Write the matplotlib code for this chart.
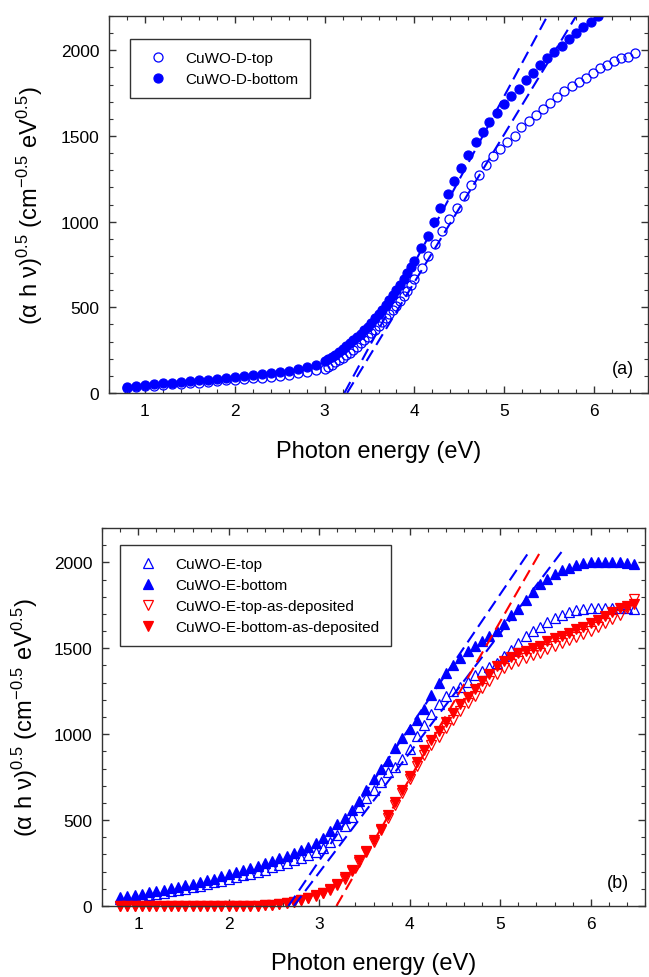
import numpy as np
import matplotlib
matplotlib.use("Agg")
import matplotlib.pyplot as plt
from matplotlib.ticker import MultipleLocator

plt.rcParams['font.family'] = ['Liberation Sans', 'DejaVu Sans']
plt.rcParams['mathtext.fontset'] = 'custom'
plt.rcParams['mathtext.rm'] = 'Liberation Sans'
plt.rcParams['mathtext.it'] = 'Liberation Sans'
plt.rcParams['mathtext.default'] = 'regular'

# ---- panel (a): CuWO-D ----
d_top_x = [0.8, 0.9, 1.0, 1.1, 1.2, 1.3, 1.4, 1.5, 1.6, 1.7, 1.8, 1.9, 2.0, 2.1, 2.2, 2.3, 2.4, 2.5,
           2.6, 2.7, 2.8, 2.9,
           3.00, 3.04, 3.08, 3.12, 3.16, 3.20, 3.24, 3.28, 3.32, 3.36, 3.40, 3.44, 3.48, 3.52, 3.56,
           3.60, 3.64, 3.68, 3.72, 3.76, 3.80, 3.84, 3.88, 3.92, 3.96, 4.00,
           4.08, 4.15, 4.23, 4.31, 4.39, 4.47, 4.55, 4.63, 4.72, 4.80, 4.87, 4.95, 5.03, 5.12, 5.19,
           5.27, 5.35, 5.43, 5.51, 5.59, 5.67, 5.75, 5.83, 5.91, 5.99, 6.07, 6.14, 6.22, 6.30, 6.38, 6.46]
d_top_y = [30, 35, 40, 43, 47, 50, 54, 57, 61, 65, 69, 73, 77, 81, 85, 90, 95, 100,
           107, 114, 122, 132,
           142, 153, 165, 178, 191, 205, 220, 236, 253, 271, 290, 309, 329, 349, 369,
           390, 412, 435, 459, 484, 510, 538, 567, 598, 630, 665,
           728, 800, 869, 943, 1015, 1079, 1147, 1213, 1273, 1330, 1381, 1423, 1462, 1500, 1550,
           1585, 1622, 1656, 1695, 1727, 1760, 1790, 1815, 1840, 1870, 1895, 1915, 1938, 1952, 1963, 1982]

d_bot_x = [0.8, 0.9, 1.0, 1.1, 1.2, 1.3, 1.4, 1.5, 1.6, 1.7, 1.8, 1.9, 2.0, 2.1, 2.2, 2.3, 2.4, 2.5,
           2.6, 2.7, 2.8, 2.9,
           3.00, 3.04, 3.08, 3.12, 3.16, 3.20, 3.24, 3.28, 3.32, 3.36, 3.40, 3.44, 3.48, 3.52, 3.56,
           3.60, 3.64, 3.68, 3.72, 3.76, 3.80, 3.84, 3.88, 3.92, 3.96, 4.00,
           4.07, 4.15, 4.22, 4.29, 4.37, 4.44, 4.52, 4.60, 4.68, 4.76, 4.83, 4.92, 5.00, 5.08, 5.16,
           5.24, 5.32, 5.40, 5.48, 5.55, 5.64, 5.72, 5.80, 5.88, 5.96, 6.04]
d_bot_y = [35, 43, 49, 53, 57, 61, 65, 69, 73, 78, 83, 88, 95, 100, 105, 110, 116, 123,
           130, 139, 150, 165,
           185, 197, 210, 224, 239, 255, 272, 289, 307, 326, 345, 366, 388, 411, 435,
           460, 486, 513, 541, 570, 600, 632, 665, 699, 734, 770,
           845, 917, 1000, 1080, 1160, 1238, 1315, 1390, 1462, 1524, 1582, 1636, 1686, 1734, 1776,
           1825, 1870, 1912, 1957, 1990, 2025, 2064, 2100, 2134, 2163, 2198]

# linear fits (x at y=0, x at y=2200)
d_fit1_x = [3.22, 5.48]
d_fit1_y = [0, 2200]
d_fit2_x = [3.25, 5.80]
d_fit2_y = [0, 2200]

# ---- panel (b): CuWO-E ----
e_x = [0.80, 0.88, 0.96, 1.04, 1.12, 1.20, 1.28, 1.36, 1.44, 1.52, 1.60, 1.68, 1.76, 1.84, 1.92,
       2.00, 2.08, 2.16, 2.24, 2.32, 2.40, 2.48, 2.56, 2.64, 2.72, 2.80, 2.88, 2.96, 3.04, 3.12,
       3.20, 3.28, 3.36, 3.44, 3.52, 3.60, 3.68, 3.76, 3.84, 3.92, 4.00, 4.08, 4.16, 4.24, 4.32,
       4.40, 4.48, 4.56, 4.64, 4.72, 4.80, 4.88, 4.96, 5.04, 5.12, 5.20, 5.28, 5.36, 5.44, 5.52,
       5.60, 5.68, 5.76, 5.84, 5.92, 6.00, 6.08, 6.16, 6.24, 6.32, 6.40, 6.48]
e_top = [40, 46, 52, 58, 64, 71, 78, 85, 93, 101, 110, 118, 127, 137, 147,
         157, 167, 178, 189, 200, 212, 225, 238, 252, 266, 282, 298, 315, 340, 375,
         415, 465, 518, 575, 628, 675, 720, 778, 810, 855, 915, 988, 1055, 1118, 1175,
         1225, 1250, 1275, 1305, 1345, 1366, 1390, 1415, 1455, 1492, 1530, 1570, 1600, 1625, 1651,
         1675, 1695, 1710, 1722, 1728, 1732, 1735, 1736, 1736, 1735, 1733, 1730]
e_bottom = [52, 58, 64, 72, 80, 88, 96, 104, 112, 120, 130, 140, 150, 160, 172,
            185, 196, 208, 220, 234, 248, 262, 277, 292, 308, 326, 345, 366, 395, 435,
            475, 515, 560, 612, 675, 740, 795, 845, 920, 975, 1030, 1082, 1145, 1230, 1300,
            1355, 1400, 1443, 1485, 1515, 1545, 1570, 1600, 1640, 1692, 1730, 1780, 1825, 1872, 1905,
            1933, 1953, 1970, 1984, 1995, 2000, 2003, 2004, 2004, 2002, 1998, 1988]
e_top_dep = [0, 0, 0, 0, 0, 0, 0, 0, 0, 0, 0, 0, 0, 0, 0,
             0, 0, 0, 1, 2, 4, 7, 11, 17, 25, 34, 45, 58, 74, 94,
             120, 160, 202, 258, 312, 372, 440, 515, 590, 660, 738, 815, 880, 935, 985,
             1035, 1085, 1133, 1180, 1225, 1268, 1310, 1350, 1385, 1408, 1428, 1445, 1460, 1475, 1495,
             1515, 1532, 1550, 1568, 1585, 1603, 1622, 1645, 1668, 1695, 1735, 1785]
e_bottom_dep = [0, 0, 0, 0, 0, 0, 0, 0, 0, 0, 0, 0, 0, 0, 0,
                0, 0, 0, 1, 2, 4, 7, 12, 18, 26, 36, 48, 62, 78, 98,
                128, 168, 210, 268, 322, 385, 450, 530, 605, 675, 755, 840, 910, 965, 1020,
                1072, 1122, 1173, 1218, 1265, 1310, 1352, 1395, 1428, 1450, 1470, 1487, 1500, 1514, 1540,
                1558, 1574, 1590, 1610, 1626, 1645, 1665, 1688, 1709, 1733, 1748, 1760]

e_fit1_x = [2.66, 5.30]
e_fit1_y = [0, 2047]
e_fit2_x = [2.72, 5.70]
e_fit2_y = [0, 2076]
e_fit3_x = [3.19, 5.44]
e_fit3_y = [0, 2058]

BLUE = '#0000ff'
RED = '#ff0000'
SPINE = '#333333'
ylabel = '(α h ν)$^{0.5}$ (cm$^{-0.5}$ eV$^{0.5}$)'

fig = plt.figure(figsize=(6.49, 9.78), dpi=100)
ax1 = fig.add_axes([109 / 649, 1 - 394 / 978, 539 / 649, 377 / 978])
ax2 = fig.add_axes([102 / 649, 1 - 907 / 978, 543 / 649, 378 / 978])


def style_axes(ax):
    ax.set_xlim(0.6, 6.6)
    ax.set_ylim(0, 2200)
    ax.xaxis.set_major_locator(MultipleLocator(1))
    ax.xaxis.set_minor_locator(MultipleLocator(0.2))
    ax.yaxis.set_major_locator(MultipleLocator(500))
    ax.yaxis.set_minor_locator(MultipleLocator(100))
    ax.tick_params(which='both', direction='in', top=True, right=True, color=SPINE)
    ax.tick_params(which='major', length=5, width=1, labelsize=12.5, pad=7)
    ax.tick_params(which='minor', length=3, width=0.8)
    for s in ax.spines.values():
        s.set_color(SPINE)
        s.set_linewidth(1)
    ax.set_xlabel('Photon energy (eV)', fontsize=17)
    ax.set_ylabel(ylabel, fontsize=17)


dash = dict(ls=(0, (6, 3)), lw=1.5)
leg_kw = dict(loc='upper left', bbox_transform=fig.transFigure, borderaxespad=0, fontsize=11,
              frameon=True, fancybox=False, edgecolor=SPINE, framealpha=1, handlelength=2.0,
              handletextpad=0.8, borderpad=0.8, labelspacing=0.45)

# panel (a)
ax1.plot(d_top_x, d_top_y, 'o', ms=6.5, mfc='none', mec=BLUE, mew=0.9, label='CuWO-D-top')
ax1.plot(d_bot_x, d_bot_y, 'o', ms=6.5, mfc=BLUE, mec=BLUE, mew=0.9, label='CuWO-D-bottom')
ax1.plot(d_fit1_x, d_fit1_y, color=BLUE, **dash)
ax1.plot(d_fit2_x, d_fit2_y, color=BLUE, **dash)
style_axes(ax1)
ax1.xaxis.set_label_coords(0.5, -0.124)
ax1.yaxis.set_label_coords(-0.118, 0.5)
ax1.text(634 / 649, 1 - 369 / 978, '(a)', transform=fig.transFigure, fontsize=13,
         ha='right', va='center')
ax1.legend(bbox_to_anchor=(130 / 649, 1 - 40 / 978), **leg_kw)

# panel (b)
ms = 7
ax2.plot(e_x, e_top, '^', ms=ms, mfc='none', mec=BLUE, mew=0.9, clip_on=False, label='CuWO-E-top')
ax2.plot(e_x, e_bottom, '^', ms=ms, mfc=BLUE, mec=BLUE, mew=0.9, clip_on=False, label='CuWO-E-bottom')
ax2.plot(e_x, e_top_dep, 'v', ms=ms, mfc='none', mec=RED, mew=0.9, clip_on=False,
         label='CuWO-E-top-as-deposited')
ax2.plot(e_x, e_bottom_dep, 'v', ms=ms, mfc=RED, mec=RED, mew=0.9, clip_on=False,
         label='CuWO-E-bottom-as-deposited')
ax2.plot(e_fit1_x, e_fit1_y, color=BLUE, **dash)
ax2.plot(e_fit2_x, e_fit2_y, color=BLUE, **dash)
ax2.plot(e_fit3_x, e_fit3_y, color=RED, **dash)
style_axes(ax2)
ax2.xaxis.set_label_coords(0.5, -0.122)
ax2.yaxis.set_label_coords(-0.115, 0.5)
ax2.text(629 / 649, 1 - 883 / 978, '(b)', transform=fig.transFigure, fontsize=13,
         ha='right', va='center')
ax2.legend(bbox_to_anchor=(120 / 649, 1 - 546 / 978), **leg_kw)

fig.savefig('out.png', dpi=100)
